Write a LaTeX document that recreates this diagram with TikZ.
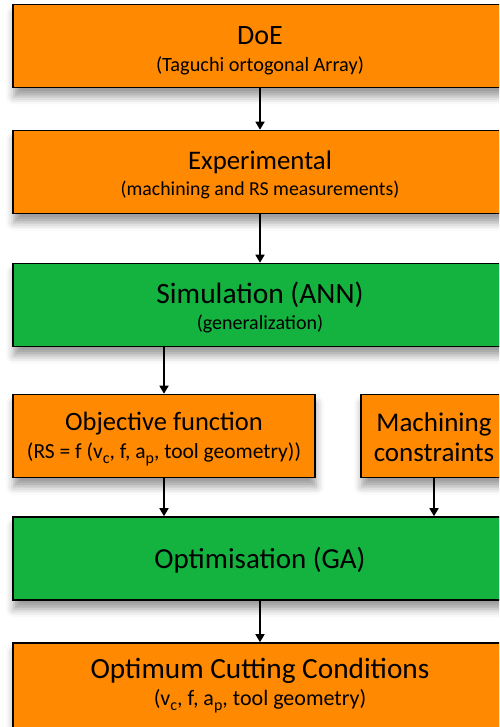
\documentclass[tikz,border=0pt]{standalone}
\usepackage{fontspec}
\setmainfont{Carlito}
\usetikzlibrary{arrows.meta,shadows.blur}

\definecolor{stageorange}{RGB}{255,137,0}
\definecolor{stagegreen}{RGB}{20,178,62}

% index set low, nearly full size
\newcommand{\lowidx}[1]{\raisebox{-5.5pt}{\fontsize{16}{16}\selectfont #1}}

\tikzset{
  stagebox/.style={draw=black, line width=1.6pt, inner sep=0pt,
    minimum height=83pt,
    blur shadow={shadow xshift=1pt, shadow yshift=-9pt, shadow blur radius=8pt, shadow opacity=40}},
  orangebox/.style={stagebox, fill=stageorange},
  greenbox/.style={stagebox, fill=stagegreen},
  titletext/.style={anchor=base, inner sep=0pt, text=black, font=\fontsize{#1}{#1}\selectfont},
  titletext/.default=27,
  subtext/.style={anchor=base, inner sep=0pt, text=black, font=\fontsize{#1}{#1}\selectfont},
  subtext/.default=20,
  flow/.style={line width=1.6pt, -{Triangle[width=9pt,length=8pt]}}
}

\begin{document}
\begin{tikzpicture}[x=1pt, y=-1pt]
    \useasboundingbox (0,0) rectangle (499,727);
    \clip (0,0) rectangle (499,727);

    % Boxes
    \node[orangebox, minimum width=494pt] (doe) at (260,46) {};
    \node[orangebox, minimum width=494pt] (exp) at (260,172) {};
    \node[greenbox,  minimum width=494pt] (sim) at (260,305) {};
    \node[orangebox, minimum width=302pt] (obj) at (164,436) {};
    \node[orangebox, minimum width=146pt] (mach) at (434,436) {};
    \node[greenbox,  minimum width=494pt] (opt) at (260,558.5) {};
    \node[orangebox, minimum width=494pt, minimum height=86pt] (cond) at (260,686) {};

    % Texts (at their baselines)
    \node[titletext=28]   (doe-t) at (260,45)  {DoE};
    \node[subtext=20.3]   (doe-s) at (260,72)  {(Taguchi ortogonal Array)};
    \node[titletext=26.8] (exp-t) at (260,169.5) {Experimental};
    \node[subtext=19.8]   (exp-s) at (260,196) {(machining and RS measurements)};
    \node[titletext=29.5] (sim-t) at (260,303) {Simulation (ANN)};
    \node[subtext=20]     (sim-s) at (260,329) {(generalization)};
    \node[titletext=26.5] (obj-t) at (164,430) {Objective function};
    \node[subtext=21.5]   (obj-s) at (164,458) {(RS = f (v\lowidx{c}, f, a\lowidx{p}, tool geometry))};
    \node[titletext=27]   (mach-t) at (434,431) {Machining};
    \node[titletext=27]   (mach-s) at (434,461) {constraints};
    \node[titletext=29]   (opt-t) at (260,568) {Optimisation (GA)};
    \node[titletext=29.3] (cond-t) at (260,678) {Optimum Cutting Conditions};
    \node[subtext=22]     (cond-s) at (260,705) {(v\lowidx{c}, f, a\lowidx{p}, tool geometry)};

    % Arrows
    \draw[flow] (doe) -- (exp);
    \draw[flow] (exp) -- (sim);
    \draw[flow] (sim.south -| obj.north) -- (obj);
    \draw[flow] (obj) -- (opt.north -| obj.south);
    \draw[flow] (mach) -- (opt.north -| mach.south);
    \draw[flow] (opt) -- (cond);
\end{tikzpicture}
\end{document}
